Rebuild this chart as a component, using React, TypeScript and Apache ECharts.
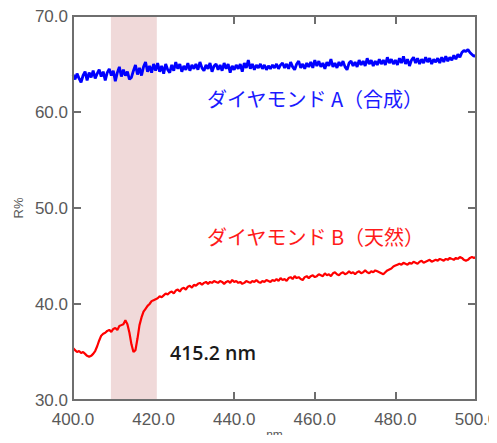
import React, { useEffect, useRef } from "react";
import * as echarts from "echarts";

const waveStart = 400;
const waveStep = 0.5;

const synthA: number[] = [
  63.9, 63.4, 64.0, 63.5, 63.1, 63.8, 64.2, 63.3, 64.1, 63.6, 64.3, 63.5, 64.0, 64.4, 63.7, 64.2, 63.3, 64.1, 64.5, 63.8, 64.3,
  63.2, 64.1, 64.7, 63.7, 64.4, 63.8, 64.2, 63.4, 63.6, 64.3, 64.9, 63.9, 64.6, 63.8, 64.7, 65.2, 64.2, 64.8, 64.1, 65.0,
  64.3, 65.1, 64.2, 64.8, 64.0, 65.0, 64.4, 64.1, 64.9, 64.3, 65.2, 64.5, 65.0, 64.2, 64.8, 64.4, 65.1, 64.3, 64.9, 64.5,
  65.0, 64.4, 65.2, 64.6, 64.3, 64.9, 64.5, 65.1, 64.2, 64.8, 65.0, 64.4, 64.9, 64.3, 65.1, 64.5, 65.0, 64.1, 64.8, 64.4,
  64.9, 64.5, 65.0, 64.2, 65.1, 64.6, 65.4, 64.5, 65.0, 64.4, 64.9, 64.6, 65.0, 64.5, 64.9, 64.4, 64.8, 64.5, 64.9, 64.6,
  65.0, 64.5, 64.9, 65.1, 64.6, 65.0, 64.5, 65.2, 64.7, 64.4, 65.0, 65.3, 64.6, 65.0, 64.5, 65.1, 64.7, 65.2, 64.6, 65.4,
  64.8, 65.3, 64.7, 65.1, 64.5, 65.2, 64.8, 65.5, 64.7, 65.1, 64.6, 65.2, 64.8, 65.3, 64.7, 64.4, 65.1, 65.3, 64.8, 65.2,
  64.7, 65.4, 64.9, 65.3, 64.8, 65.6, 65.0, 65.4, 64.8, 65.3, 64.9, 65.5, 65.0, 65.4, 64.9, 65.7, 65.1, 65.5, 65.0, 65.4,
  64.9, 65.6, 65.1, 65.8, 65.0, 65.5, 64.8, 65.4, 65.7, 65.1, 65.6, 65.0, 65.5, 65.1, 65.7, 65.2, 65.6, 65.0, 65.5, 65.2,
  65.6, 65.1, 65.7, 65.2, 65.8, 65.3, 65.7, 65.4, 65.9, 65.5, 66.0, 65.7, 66.2, 66.4, 66.3, 66.5, 66.2, 66.0, 65.8, 65.9,
];

const naturalB: number[] = [
  35.4, 35.2, 35.0, 35.1, 34.9, 35.0, 34.8, 34.6, 34.5, 34.6, 34.8, 35.1, 35.6, 36.2, 36.7, 36.9, 37.0, 37.2, 37.3, 37.1, 37.4,
  37.5, 37.3, 37.7, 37.8, 37.9, 38.3, 37.9, 37.0, 35.8, 35.0, 35.2, 36.4, 37.8, 38.6, 39.2, 39.5, 39.8, 40.0, 40.3, 40.4,
  40.5, 40.6, 40.8, 40.7, 40.9, 41.1, 41.0, 41.2, 41.3, 41.1, 41.4, 41.5, 41.3, 41.6, 41.7, 41.5, 41.8, 41.9, 41.7, 42.0,
  41.9, 42.1, 42.2, 42.0, 42.2, 42.3, 42.1, 42.3, 42.2, 42.4, 42.3, 42.2, 42.4, 42.3, 42.1, 42.3, 42.4, 42.2, 42.5, 42.3,
  42.4, 42.2, 42.3, 42.1, 42.2, 42.4, 42.3, 42.2, 42.4, 42.3, 42.5, 42.3, 42.2, 42.4, 42.3, 42.5, 42.4, 42.3, 42.5, 42.4,
  42.6, 42.4, 42.7, 42.5, 42.6, 42.4, 42.7, 42.8, 42.6, 42.9, 42.7, 42.8, 42.6, 42.5, 42.8, 42.9, 42.7, 42.9, 43.0, 42.8,
  42.9, 43.1, 43.0, 42.9, 43.2, 43.0, 43.1, 42.9, 43.2, 43.3, 43.1, 43.0, 43.2, 43.3, 43.1, 43.2, 43.4, 43.2, 43.3, 43.1,
  43.3, 43.4, 43.2, 43.3, 43.5, 43.3, 43.2, 43.4, 43.3, 43.5, 43.4, 43.3, 43.2, 43.1, 43.3, 43.5, 43.6, 43.7, 43.9, 44.0,
  44.1, 44.2, 44.1, 44.3, 44.2, 44.1, 44.3, 44.2, 44.4, 44.3, 44.2, 44.4, 44.5, 44.3, 44.4, 44.5, 44.6, 44.4, 44.5, 44.6,
  44.5, 44.7, 44.6, 44.5, 44.7, 44.6, 44.8, 44.7, 44.6, 44.8, 44.7, 44.9, 44.8, 44.6, 44.5, 44.6, 44.8, 44.9, 44.8, 44.9,
];

const bandRange = [409.4, 420.8];
const xTicks = [400, 420, 440, 460, 480, 500];
const yTicks = [30, 40, 50, 60, 70];
const labelA = "ダイヤモンド A（合成）";
const labelB = "ダイヤモンド B（天然）";
const peakLabel = "415.2 nm";

const toPairs = (vals: number[]) => vals.map((v, i) => [waveStart + i * waveStep, v]);

const axisColor = "#6e6e6e";
const labelColor = "#595959";
const font = "'Liberation Sans', Arial, sans-serif";

const mkLine = () => ({ show: true, onZero: false, lineStyle: { color: axisColor, width: 2 } });
const mkTick = () => ({ show: true, inside: true, length: 8, lineStyle: { color: axisColor, width: 2 } });

export default function App() {
  const ref = useRef<HTMLDivElement>(null);
  useEffect(() => {
    if (!ref.current) return;
    const chart = echarts.init(ref.current, undefined, { renderer: "svg" });
    chart.setOption({
      animation: false,
      backgroundColor: "#ffffff",
      grid: {
        left: 73,
        right: 21,
        top: 16,
        bottom: 43,
        containLabel: false,
        outerBoundsMode: "none",
        show: true,
        backgroundColor: "transparent",
        borderColor: axisColor,
        borderWidth: 2,
      },
      xAxis: [
        {
          type: "value",
          position: "bottom",
          min: xTicks[0],
          max: xTicks[xTicks.length - 1],
          interval: 20,
          name: "nm",
          nameLocation: "middle",
          nameGap: 29,
          nameMoveOverlap: false,
          nameTextStyle: { color: labelColor, fontSize: 12, fontFamily: font },
          axisLine: mkLine(),
          axisTick: mkTick(),
          axisLabel: {
            color: labelColor,
            fontSize: 17,
            fontFamily: font,
            margin: 11,
            formatter: (v: number) => v.toFixed(1),
          },
          splitLine: { show: false },
        },
        {
          type: "value",
          position: "top",
          min: xTicks[0],
          max: xTicks[xTicks.length - 1],
          interval: 20,
          axisLine: mkLine(),
          axisTick: mkTick(),
          axisLabel: { show: false },
          splitLine: { show: false },
        },
      ],
      yAxis: [
        {
          type: "value",
          position: "left",
          min: yTicks[0],
          max: yTicks[yTicks.length - 1],
          interval: 10,
          name: "R%",
          nameLocation: "middle",
          nameGap: 48,
          nameRotate: 90,
          nameMoveOverlap: false,
          nameTextStyle: { color: labelColor, fontSize: 13, fontFamily: font },
          axisLine: mkLine(),
          axisTick: mkTick(),
          axisLabel: {
            color: labelColor,
            fontSize: 17,
            fontFamily: font,
            margin: 5,
            formatter: (v: number) => v.toFixed(1),
          },
          splitLine: { show: false },
        },
        {
          type: "value",
          position: "right",
          min: yTicks[0],
          max: yTicks[yTicks.length - 1],
          interval: 10,
          axisLine: mkLine(),
          axisTick: mkTick(),
          axisLabel: { show: false },
          splitLine: { show: false },
        },
      ],
      series: [
        {
          name: labelA,
          type: "line",
          xAxisIndex: 0,
          yAxisIndex: 0,
          data: toPairs(synthA),
          showSymbol: false,
          symbol: "none",
          lineStyle: { color: "#0000ff", width: 2.8 },
          z: 3,
          markArea: {
            silent: true,
            itemStyle: { color: "#f0d9d9" },
            data: [[{ xAxis: bandRange[0] }, { xAxis: bandRange[1] }]],
          },
        },
        {
          name: labelB,
          type: "line",
          xAxisIndex: 0,
          yAxisIndex: 0,
          data: toPairs(naturalB),
          showSymbol: false,
          symbol: "none",
          lineStyle: { color: "#ff0000", width: 2.2 },
          z: 3,
        },
      ],
      graphic: [
        {
          type: "polyline",
          silent: true,
          z: 100,
          shape: { points: [[73, 16], [476, 16], [476, 400], [73, 400], [73, 16]] },
          style: { fill: null, stroke: axisColor, lineWidth: 2 },
        },
        {
          type: "text",
          left: 207,
          top: 88,
          style: {
            text: labelA,
            fill: "#1a1aff",
            fontSize: 20,
            fontFamily: "'Noto Sans CJK JP', sans-serif",
          },
        },
        {
          type: "text",
          left: 207,
          top: 226,
          style: {
            text: labelB,
            fill: "#ff1a1a",
            fontSize: 20,
            fontFamily: "'Noto Sans CJK JP', sans-serif",
          },
        },
        {
          type: "text",
          left: 170,
          top: 342,
          style: {
            text: peakLabel,
            fill: "#1a1a1a",
            fontSize: 19.5,
            fontWeight: 600,
            fontFamily: "'Open Sans', sans-serif",
          },
        },
      ],
    });
    return () => chart.dispose();
  }, []);
  return <div ref={ref} style={{ width: 497, height: 443, margin: -8 }} />;
}
